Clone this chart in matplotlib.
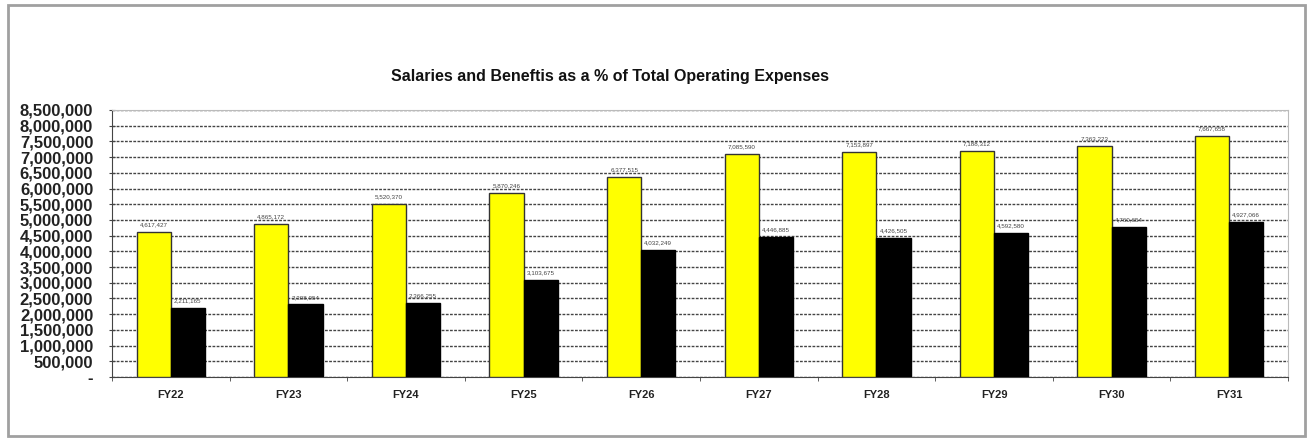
import numpy as np
import matplotlib.pyplot as plt
from matplotlib.patches import Rectangle
from matplotlib.ticker import FuncFormatter, MultipleLocator

years = ["FY22", "FY23", "FY24", "FY25", "FY26", "FY27", "FY28", "FY29", "FY30", "FY31"]
total_opex = [4617427, 4865172, 5520370, 5870246, 6377515, 7085590, 7153897, 7188312, 7363223, 7667658]
salaries = [2211165, 2308054, 2366255, 3103675, 4032249, 4446885, 4426505, 4592580, 4760654, 4927066]

plt.rcParams['font.family'] = ['Liberation Sans', 'DejaVu Sans']

W, H = 1308, 438
fig = plt.figure(figsize=(W / 100, H / 100), dpi=100)
ax = fig.add_axes([112 / W, 1 - 377 / H, (1288 - 112) / W, (377 - 110) / H])

# outer frame
fig.patches.append(Rectangle((8 / W, 2 / H), (1305 - 8) / W, (433 - 2) / H,
                             transform=fig.transFigure, fill=False,
                             edgecolor='#a0a0a0', linewidth=2))

x = np.arange(len(years))
bw = 0.29
b1 = ax.bar(x - bw / 2, total_opex, bw, color='#ffff00', edgecolor='#333333', linewidth=1, zorder=3)
b2 = ax.bar(x + bw / 2, salaries, bw, color='black', edgecolor='black', linewidth=1, zorder=3)

# value labels above each bar
for bars, vals in [(b1, total_opex), (b2, salaries)]:
    for rect, v in zip(bars, vals):
        ax.text(rect.get_x() + rect.get_width() / 2, v + 150000, f"{v:,}",
                ha='center', va='bottom', fontsize=4.5, color='#444444', zorder=4)

ax.set_xlim(-0.5, len(years) - 0.5)
ax.set_ylim(0, 8500000)
ax.yaxis.set_major_locator(MultipleLocator(500000))
ax.yaxis.set_major_formatter(FuncFormatter(lambda v, p: "-" if v == 0 else f"{int(v):,}"))
ax.set_xticks(x)
ax.set_xticklabels(years, fontsize=8, fontweight='bold', color='#222222')
ax.set_xticks(np.arange(-0.5, len(years), 1), minor=True)
ax.tick_params(axis='x', which='major', length=0, pad=9)
ax.tick_params(axis='x', which='minor', length=3, direction='out', color='#444444')
ax.tick_params(axis='y', length=5, direction='inout', color='#444444', pad=11)
for lab in ax.get_yticklabels():
    lab.set_fontweight('bold')
    lab.set_fontsize(12)
    lab.set_color('#222222')

ax.grid(axis='y', linestyle=(0, (2, 1)), color='#444444', linewidth=1, zorder=0)
ax.set_axisbelow(True)
ax.spines['left'].set_color('#444444')
ax.spines['bottom'].set_color('#444444')
ax.spines['top'].set_color('#bbbbbb')
ax.spines['right'].set_color('#bbbbbb')

fig.text(610 / W, 1 - 76 / H, "Salaries and Beneftis as a % of Total Operating Expenses",
         ha='center', va='center', fontsize=11.5, fontweight='bold', color='#111111')

fig.savefig("out.png", dpi=100)
